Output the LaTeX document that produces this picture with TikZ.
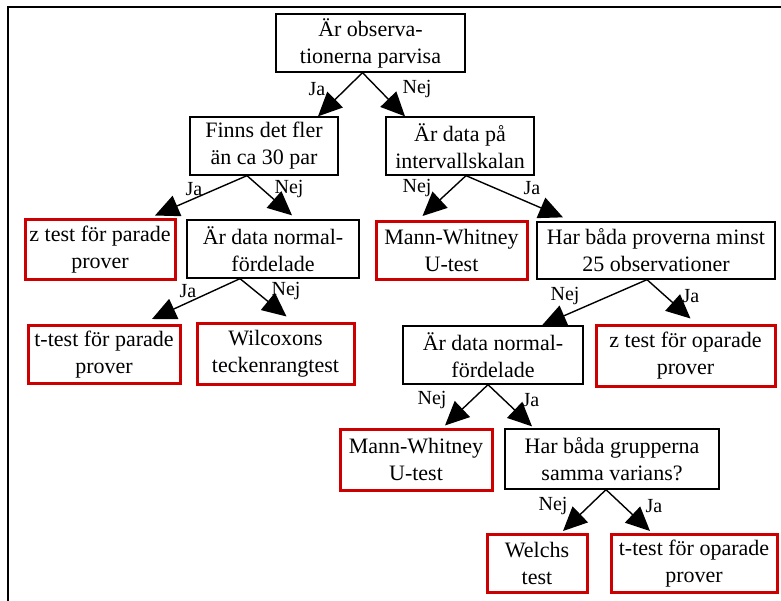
\documentclass[tikz,border=0pt]{standalone}
\usepackage{fontspec}
\setmainfont{Liberation Serif}
\usepackage{xcolor}
\usepackage{tikz}
\usetikzlibrary{arrows.meta, positioning}

\definecolor{testred}{RGB}{204,0,0}

\tikzset{
  box/.style={draw, line width=1.3pt, inner sep=0pt, minimum height=58pt,
    align=center, font=\fontsize{22}{27}\selectfont},
  testbox/.style={box, draw=testred, line width=3pt},
  arr/.style={line width=1.4pt, -{Triangle[length=24pt, width=22pt]}},
  lbl/.style={inner sep=0pt, font=\fontsize{20}{24}\selectfont}
}

\begin{document}
\begin{tikzpicture}[x=1pt, y=-1pt]
                \useasboundingbox (0,0) rectangle (781,601);
                \draw[line width=2pt] (7.5,601) -- (7.5,7) -- (781,7);

                % questions
                \node[box, minimum width=189pt] (par) at (370.5,43) {Är observa-\\tionerna parvisa};
                \node[box, minimum width=148pt] (fler) at (264,146) {Finns det fler\\än ca 30 par};
                \node[box, minimum width=148pt] (skala) at (460,146) {Är data på\\intervallskalan};
                \node[box, minimum width=172pt] (norm1) at (273,249) {Är data normal-\\fördelade};
                \node[box, minimum width=238pt, minimum height=57pt] (antal) at (656,250.5) {Har båda proverna minst\\25 observationer};
                \node[box, minimum width=180pt] (norm2) at (493,355) {Är data normal-\\fördelade};
                \node[box, minimum width=214pt, minimum height=60pt] (varians) at (612,459) {Har båda grupperna\\samma varians?};

                % tests
                \node[testbox, minimum width=150pt, minimum height=60pt] (zpar) at (100,250) {z test för parade\\prover};
                \node[testbox, minimum width=151pt] (mw1) at (451.5,250.5) {Mann-Whitney\\U-test};
                \node[testbox, minimum width=152pt] (tpar) at (104,354.5) {t-test för parade\\prover};
                \node[testbox, minimum width=157pt, minimum height=61pt] (wilc) at (275.5,353.5) {Wilcoxons\\teckenrangtest};
                \node[testbox, minimum width=179pt, minimum height=61pt] (zopar) at (685.5,355.5) {z test för oparade\\prover};
                \node[testbox, minimum width=152pt, minimum height=61pt] (mw2) at (416,459.5) {Mann-Whitney\\U-test};
                \node[testbox, minimum width=100pt] (welch) at (537,563.5) {Welchs\\test};
                \node[testbox, minimum width=166pt] (topar) at (694,563.5) {t-test för oparade\\prover};

                % connectors
                \draw[arr] ([xshift=-8pt]par.south) -- ([xshift=54pt]fler.north);
                \draw[arr] ([xshift=-8pt]par.south) -- ([xshift=-55pt]skala.north);
                \draw[arr] ([xshift=-17pt]fler.south) -- ([xshift=55pt, yshift=3pt]zpar.north);
                \draw[arr] ([xshift=-17pt]fler.south) -- ([xshift=19pt, yshift=4pt]norm1.north);
                \draw[arr] ([xshift=6pt]skala.south) -- ([xshift=-29pt, yshift=4pt]mw1.north);
                \draw[arr] ([xshift=6pt]skala.south) -- ([xshift=-93pt, yshift=4pt]antal.north);
                \draw[arr] ([xshift=-33pt]norm1.south) -- ([xshift=48pt, yshift=5pt]tpar.north);
                \draw[arr] ([xshift=-33pt]norm1.south) -- ([xshift=11pt, yshift=5pt]wilc.north);
                \draw[arr] ([xshift=-9pt]antal.south) -- ([xshift=49pt]norm2.north);
                \draw[arr] ([xshift=-9pt]antal.south) -- ([xshift=5pt, yshift=5pt]zopar.north);
                \draw[arr] ([xshift=-5pt]norm2.south) -- ([xshift=29pt, yshift=2pt]mw2.north);
                \draw[arr] ([xshift=-5pt]norm2.south) -- ([xshift=-80pt, yshift=2pt]varians.north);
                \draw[arr] ([xshift=-6pt]varians.south) -- ([xshift=26pt, yshift=2pt]welch.north);
                \draw[arr] ([xshift=-6pt]varians.south) -- ([xshift=-44pt, yshift=2pt]topar.north);

                % labels
                \node[lbl] (ja1) at (317,89) {Ja};
                \node[lbl] (nej1) at (417,89) {Nej};
                \node[lbl] (ja2) at (194,189) {Ja};
                \node[lbl] (nej2) at (289,189) {Nej};
                \node[lbl] (nej3) at (417,188) {Nej};
                \node[lbl] (ja3) at (532,188) {Ja};
                \node[lbl] (ja4) at (188,291) {Ja};
                \node[lbl] (nej4) at (286,291) {Nej};
                \node[lbl] (nej5) at (565,296) {Nej};
                \node[lbl] (ja5) at (691,296) {Ja};
                \node[lbl] (nej6) at (432,400) {Nej};
                \node[lbl] (ja6) at (531,400) {Ja};
                \node[lbl] (nej7) at (553,506) {Nej};
                \node[lbl] (ja7) at (654,506) {Ja};
            \end{tikzpicture}
\end{document}
